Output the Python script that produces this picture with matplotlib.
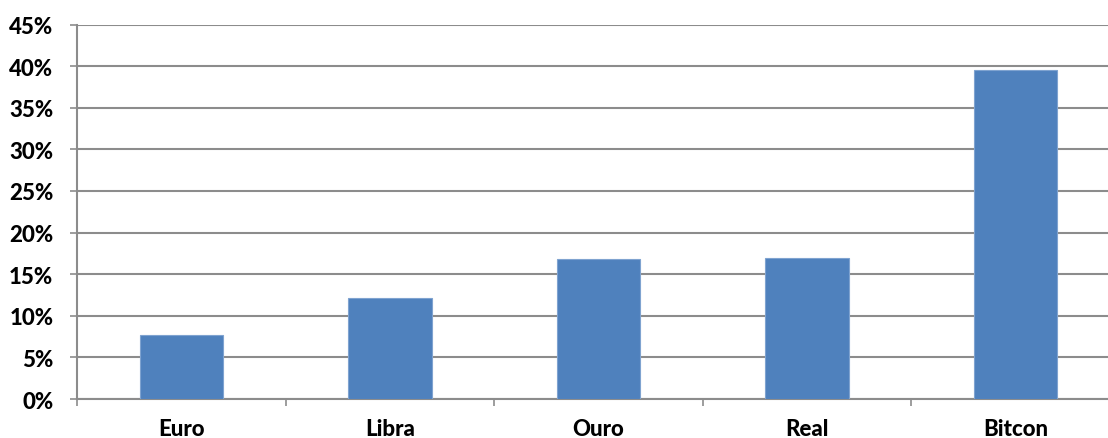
import matplotlib.pyplot as plt
from matplotlib.ticker import FuncFormatter, FixedLocator

moedas = ["Euro", "Libra", "Ouro", "Real", "Bitcon"]
retorno = [7.7, 12.1, 16.8, 16.9, 39.5]
yticks = [0, 5, 10, 15, 20, 25, 30, 35, 40, 45]

plt.rcParams['font.family'] = ['Lato', 'DejaVu Sans']
plt.rcParams['font.weight'] = 'heavy'

fig = plt.figure(figsize=(11.08, 4.39), dpi=100)
# plot area runs a little past the right border
ax = fig.add_axes([0.0695, 0.0888, 0.9413, 0.8531])

x = range(len(moedas))
ax.bar(x, retorno, width=0.4, color="#4F81BD", edgecolor="#7FA3D0", linewidth=0.8, zorder=3)

ax.set_ylim(0, 45)
ax.set_xlim(-0.5, len(moedas) - 0.5)
ax.set_yticks(yticks)
ax.yaxis.set_major_formatter(FuncFormatter(lambda v, p: f"{v:.0f}%"))
ax.grid(axis="y", color="#8C8C8C", linewidth=1.5, zorder=0)

ax.set_xticks(list(x))
ax.set_xticklabels(moedas)
ax.xaxis.set_minor_locator(FixedLocator([i - 0.5 for i in range(len(moedas) + 1)]))
ax.tick_params(axis="x", which="major", length=0, pad=14, labelsize=16)
ax.tick_params(axis="x", which="minor", length=5, width=1.2, color="#8C8C8C")
ax.tick_params(axis="y", length=5, width=1.2, color="#8C8C8C", pad=12, labelsize=16)
for lbl in ax.get_xticklabels() + ax.get_yticklabels():
    lbl.set_fontweight("black")

for s in ["top", "right"]:
    ax.spines[s].set_visible(False)
for s in ["left", "bottom"]:
    ax.spines[s].set_color("#8C8C8C")
    ax.spines[s].set_linewidth(1.5)

plt.savefig("out.png", dpi=100)
